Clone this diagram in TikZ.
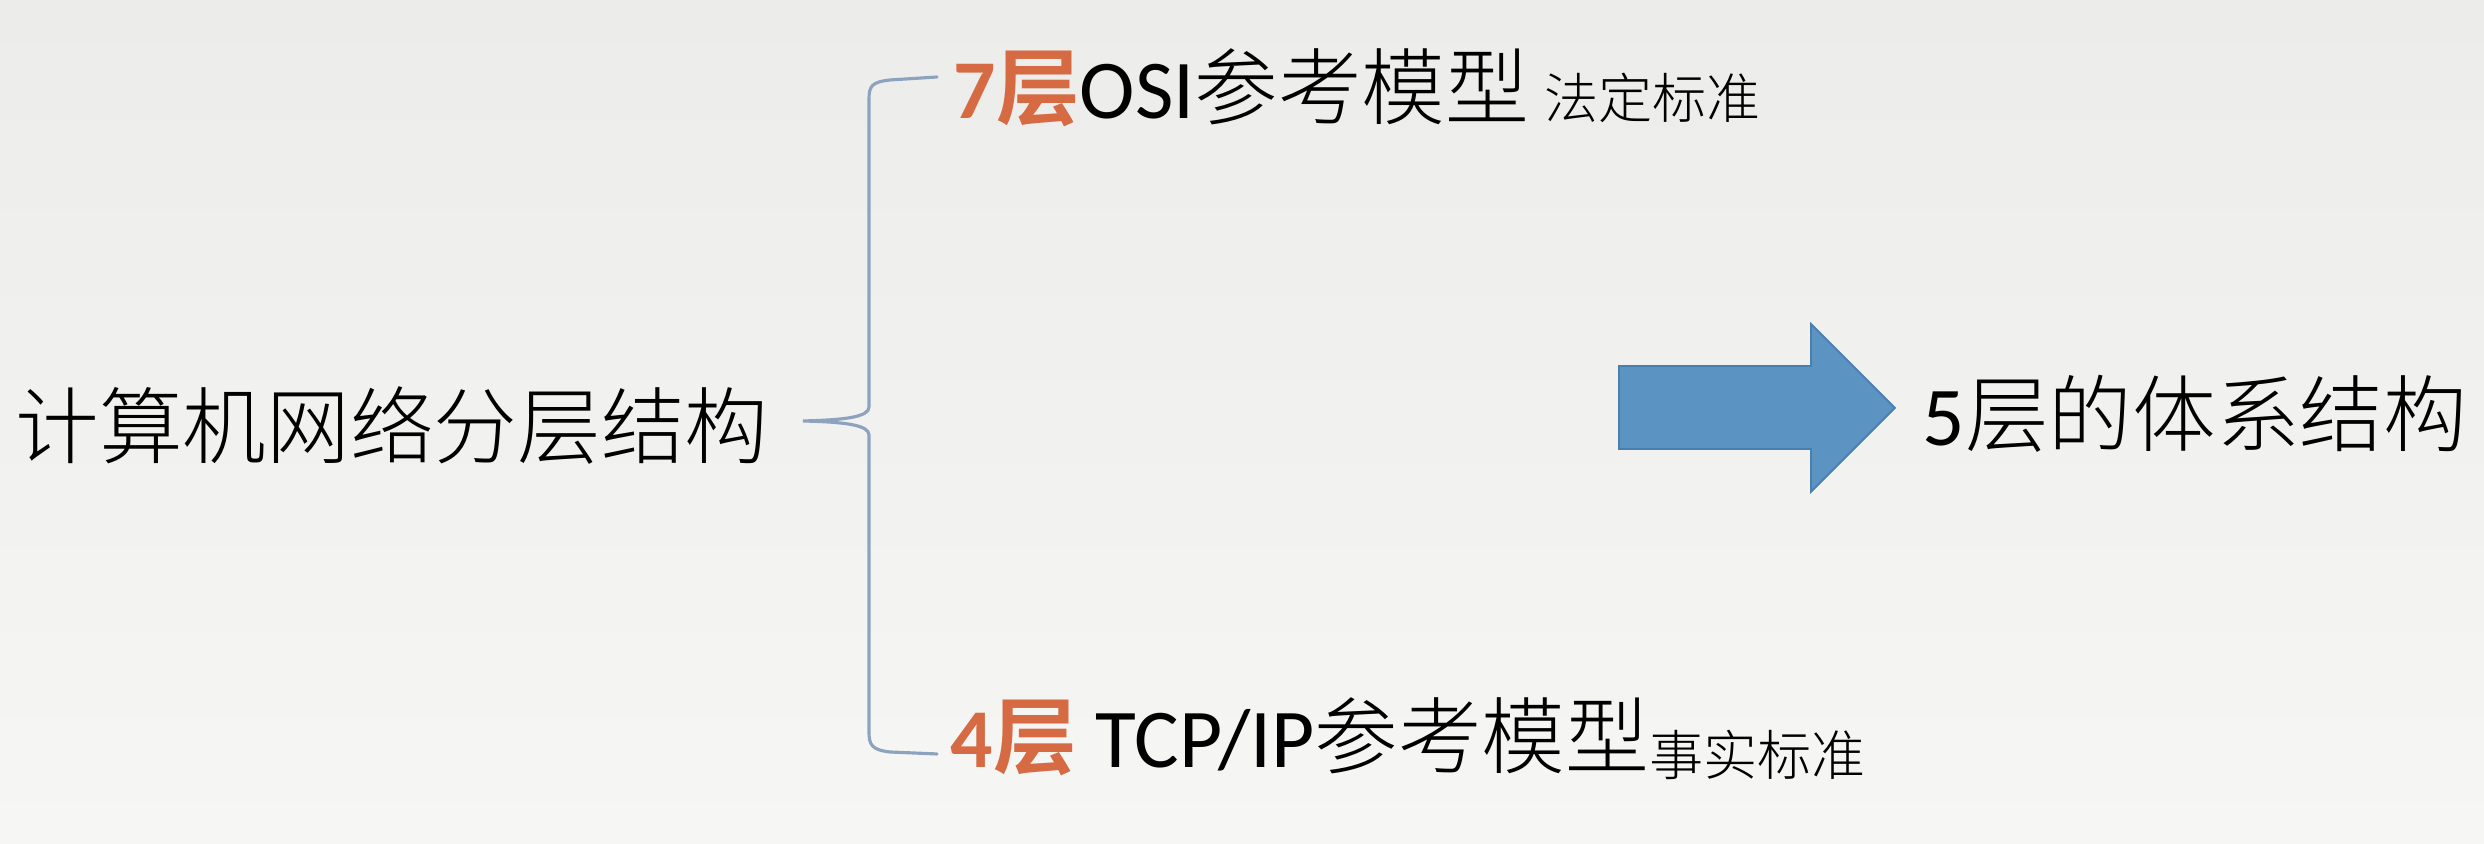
\documentclass[tikz,border=0pt]{standalone}
\usepackage{fontspec}
\setmainfont{Carlito}
\newfontfamily\cjk{Noto Sans CJK SC}[UprightFont={* Light}, BoldFont={* Bold}]
\usepackage{tikz}
\definecolor{bgtop}{RGB}{236,237,235}
\definecolor{bgbot}{RGB}{246,247,245}
\definecolor{bracecol}{RGB}{141,162,190}
\definecolor{layercol}{RGB}{214,106,66}
\definecolor{arrowfill}{RGB}{91,147,195}
\definecolor{arrowline}{RGB}{74,126,173}

\begin{document}
\begin{tikzpicture}
\tikzset{bigtext/.style = {inner sep=0pt, anchor=base west, font=\fontsize{23.8pt}{28pt}\selectfont}}
\tikzset{brace/.style = {draw=bracecol, line width=0.9pt, line cap=round}}
\tikzset{blockarrow/.style = {fill=arrowfill, draw=arrowline, line width=0.5pt}}
\newcommand{\layer}[1]{\textcolor{layercol}{\bfseries #1{\cjk\bfseries 层}}}
\newcommand{\smalltext}[1]{{\cjk\fontsize{15.4pt}{18pt}\selectfont #1}}
% background
\useasboundingbox (0,0) rectangle (24.84,8.44);
\shade[top color=bgtop, bottom color=bgbot] (0,0) rectangle (24.84,8.44);
% texts
\node[bigtext] (net) at (0.15,3.86) {\cjk 计算机网络分层结构};
\node[bigtext] (osi) at (9.53,7.25) {\layer{7}OSI{\cjk 参考模型}\hspace{0.15cm}\smalltext{法定标准}};
\node[bigtext] (tcp) at (9.50,0.76) {\layer{4} TCP/IP{\cjk 参考模型}\raisebox{-0.08cm}{\smalltext{事实标准}}};
\node[bigtext] (five) at (19.22,3.98) {5{\cjk 层的体系结构}};
% brace
\coordinate (tip) at (8.03,4.23);
\coordinate (btop) at (9.37,7.67);
\coordinate (bbot) at (9.37,0.90);
\draw[brace] (btop) -- (8.90,7.64) .. controls (8.72,7.62) and (8.69,7.58) .. (8.69,7.45)
  -- (8.69,4.37) .. controls (8.69,4.27) and (8.45,4.24) .. (tip)
  .. controls (8.45,4.22) and (8.69,4.19) .. (8.69,4.09)
  -- (8.69,1.12) .. controls (8.69,0.99) and (8.72,0.94) .. (8.90,0.92) -- (bbot);
% arrow
\filldraw[blockarrow] (16.19,4.78) -- (18.11,4.78) -- (18.11,5.20) -- (18.95,4.36)
  -- (18.11,3.52) -- (18.11,3.95) -- (16.19,3.95) -- cycle;
\end{tikzpicture}
\end{document}
